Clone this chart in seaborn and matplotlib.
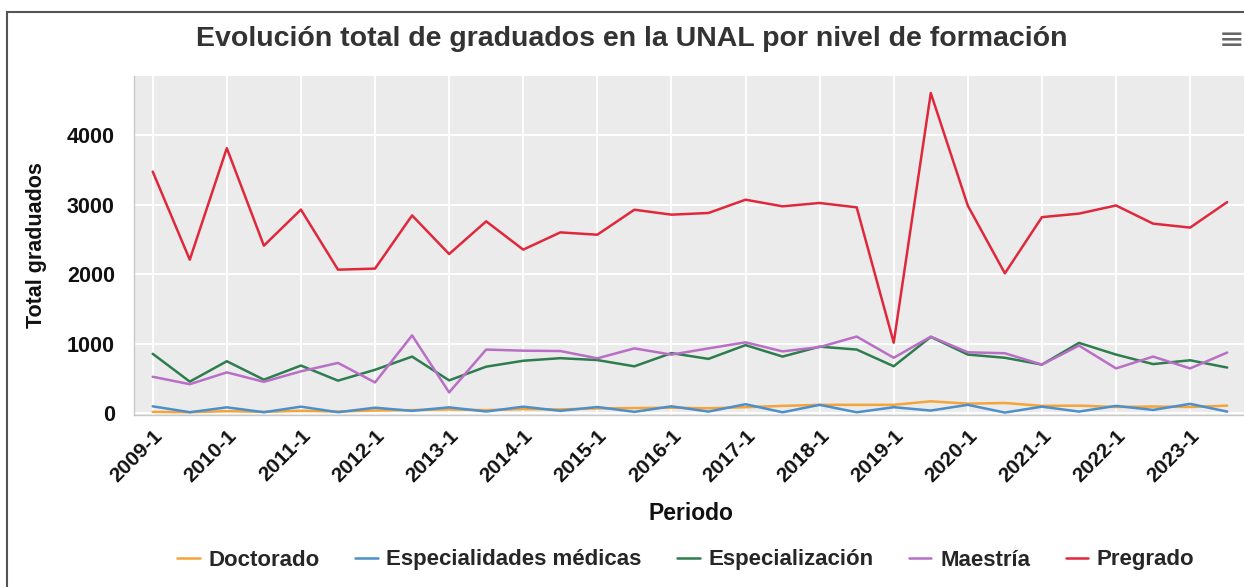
import numpy as np
import pandas as pd
import matplotlib
matplotlib.use("Agg")
import matplotlib.pyplot as plt
from matplotlib.patches import Rectangle
import seaborn as sns

periods = ["2009-1", "2009-2", "2010-1", "2010-2", "2011-1", "2011-2", "2012-1", "2012-2",
           "2013-1", "2013-2", "2014-1", "2014-2", "2015-1", "2015-2", "2016-1", "2016-2",
           "2017-1", "2017-2", "2018-1", "2018-2", "2019-1", "2019-2", "2020-1", "2020-2",
           "2021-1", "2021-2", "2022-1", "2022-2", "2023-1", "2023-2"]

doctorado = [20, 15, 30, 20, 35, 25, 40, 45, 55, 45, 60, 55, 70, 75, 80, 72,
             87, 106, 121, 121, 121, 172, 138, 148, 106, 110, 90, 97, 90, 110]
especialidades_medicas = [100, 15, 85, 15, 95, 15, 80, 35, 85, 25, 95, 35, 90, 20, 100, 24,
                          130, 14, 121, 14, 87, 39, 121, 10, 95, 24, 106, 48, 135, 24]
especializacion = [855, 455, 748, 483, 686, 469, 625, 815, 473, 670, 755, 792, 765, 675, 865, 782,
                   980, 815, 958, 916, 676, 1098, 844, 798, 700, 1012, 844, 707, 762, 657]
maestria = [525, 418, 588, 452, 603, 724, 443, 1120, 300, 916, 900, 895, 790, 933, 843, 933,
            1020, 890, 952, 1103, 798, 1102, 877, 863, 700, 973, 645, 815, 645, 873]
pregrado = [3475, 2208, 3812, 2410, 2929, 2065, 2080, 2845, 2290, 2760, 2353, 2601, 2568, 2927,
            2856, 2880, 3071, 2976, 3024, 2961, 1015, 4605, 2985, 2012, 2820, 2871, 2988, 2727,
            2670, 3037]

series_names = ["Doctorado", "Especialidades médicas", "Especialización", "Maestría", "Pregrado"]
series_values = [doctorado, especialidades_medicas, especializacion, maestria, pregrado]
colors = ["#F5A43A", "#4C8FC9", "#2E7D4F", "#B86FC5", "#E0283C"]

rows = []
for name, vals in zip(series_names, series_values):
    for p, v in zip(periods, vals):
        rows.append({"Periodo": p, "Total graduados": v, "Nivel": name})
df = pd.DataFrame(rows)

sns.set_theme(style="darkgrid")
plt.rcParams["font.family"] = ["Liberation Sans", "DejaVu Sans"]

W, H = 1244, 587
fig = plt.figure(figsize=(W / 100, H / 100), dpi=100)
fig.patch.set_facecolor("white")

ax_left, ax_right, ax_top, ax_bottom = 134.2, 1245.7, 76, 415
ax = fig.add_axes([ax_left / W, 1 - ax_bottom / H, (ax_right - ax_left) / W, (ax_bottom - ax_top) / H])
ax.set_facecolor("#EBEBEB")

sns.lineplot(data=df, x="Periodo", y="Total graduados", hue="Nivel",
             hue_order=series_names, palette=dict(zip(series_names, colors)),
             sort=False, linewidth=1.8, ax=ax, legend=False)

ax.set_xlim(-0.5, len(periods) - 0.5)
ax.set_ylim(-25, 4850)
ax.set_yticks([0, 1000, 2000, 3000, 4000])
tick_idx = list(range(0, len(periods), 2))
ax.set_xticks(tick_idx)
ax.set_xticklabels([periods[i] for i in tick_idx], rotation=45, ha="right",
                   rotation_mode="anchor", fontweight="bold", fontsize=15, color="#111111")
for lab in ax.get_yticklabels():
    lab.set_fontweight("bold")
    lab.set_fontsize(15.5)
    lab.set_color("#111111")

ax.grid(True, color="white", linewidth=1.3)
ax.tick_params(axis="both", which="major", length=4, color="#999999", width=1)
ax.tick_params(axis="y", pad=10)
ax.tick_params(axis="x", pad=4)
for side in ["top", "right"]:
    ax.spines[side].set_visible(False)
for side in ["left", "bottom"]:
    ax.spines[side].set_visible(True)
    ax.spines[side].set_color("#C8C8C8")
    ax.spines[side].set_linewidth(1)

ax.set_xlabel("Periodo", fontsize=16.5, fontweight="bold", color="#111111")
ax.set_ylabel("Total graduados", fontsize=15.5, fontweight="bold", color="#111111")
ax.xaxis.set_label_coords((691 - ax_left) / (ax_right - ax_left), (ax_bottom - 513) / (ax_bottom - ax_top))
ax.xaxis.label.set_va("center")
ax.yaxis.set_label_coords((37 - ax_left) / (ax_right - ax_left), (ax_bottom - 245) / (ax_bottom - ax_top))
ax.yaxis.label.set_va("center")

fig.text(632 / W, 1 - 39 / H, "Evolución total de graduados en la UNAL por nivel de formación",
         ha="center", va="center", fontsize=20.5, fontweight="bold", color="#333333")
fig.text(1232 / W, 1 - 41 / H, "≡", ha="center", va="center", fontsize=22,
         color="#666666", family="DejaVu Sans")

handles = [plt.Line2D([], [], color=c, linewidth=1.8) for c in colors]
fig.legend(handles, series_names, loc="center", bbox_to_anchor=(686 / W, 1 - 560 / H),
           ncol=5, frameon=False, handlelength=1.0, handletextpad=0.4, columnspacing=1.6,
           prop={"weight": "bold", "size": 16})

fig.add_artist(Rectangle((6.5 / W, -0.1), 2.0, 1.1 - 11.5 / H, transform=fig.transFigure,
                         fill=False, edgecolor="#555555", linewidth=1.5))

fig.savefig("out.png", dpi=100, facecolor="white")
